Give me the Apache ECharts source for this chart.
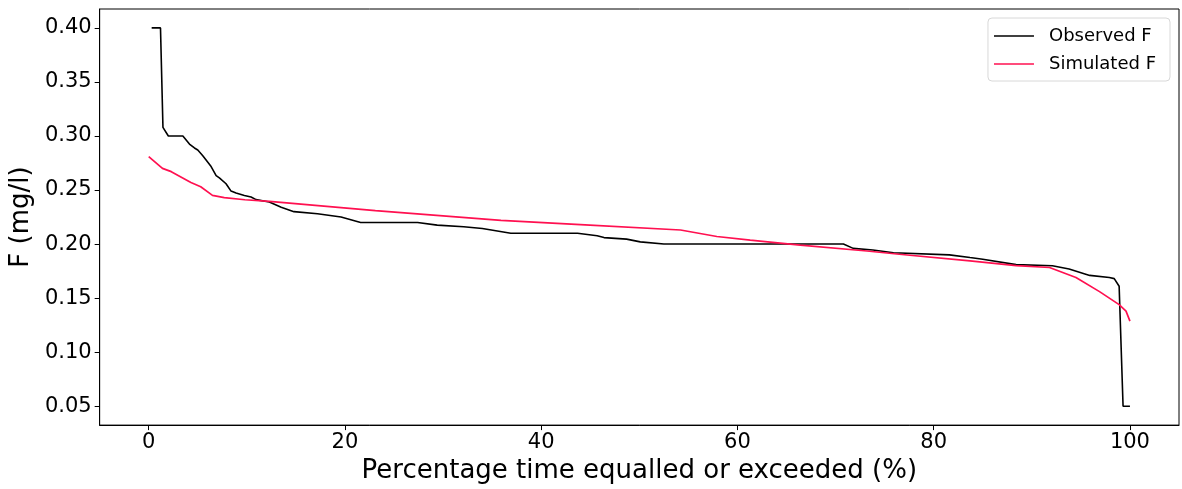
<!DOCTYPE html>
<html>
<head>
<meta charset="utf-8">
<script src="https://cdn.jsdelivr.net/npm/echarts@6/dist/echarts.min.js"></script>
<style>
html,body{margin:0;padding:0;background:#fff;}
#chart{width:1182px;height:489px;}
</style>
</head>
<body>
<div id="chart"></div>
<script>
// Observed F flow-duration style curve (x: % time equalled or exceeded, y: mg/l)
const obsX = [0.3, 1.2, 1.45, 2.0, 3.48, 4.15, 4.66, 5.0, 5.51, 6.36, 6.87, 7.2, 7.88, 8.39, 8.9, 9.75, 10.43, 10.94, 12.29, 13.5, 14.8, 17.2, 19.6, 21.6, 27.4, 29.4, 32.1, 34.0, 36.9, 43.7, 45.7, 46.4, 48.7, 50.1, 52.5, 70.8, 71.8, 73.8, 75.9, 81.6, 83.7, 85.0, 88.4, 92.1, 93.8, 95.9, 97.9, 98.4, 98.9, 99.3, 100.0];
const obsY = [0.400, 0.400, 0.308, 0.300, 0.300, 0.2925, 0.2889, 0.287, 0.2818, 0.2717, 0.2634, 0.2613, 0.2558, 0.249, 0.2472, 0.245, 0.2436, 0.2411, 0.239, 0.234, 0.230, 0.228, 0.225, 0.220, 0.220, 0.2175, 0.216, 0.2144, 0.210, 0.210, 0.2077, 0.206, 0.2046, 0.202, 0.200, 0.200, 0.196, 0.1945, 0.192, 0.190, 0.1875, 0.186, 0.181, 0.180, 0.177, 0.171, 0.169, 0.168, 0.161, 0.050, 0.050];
const simX = [0, 1.4, 2.3, 4.3, 5.3, 6.5, 7.7, 9.8, 12.3, 23.1, 35.9, 44.0, 54.2, 57.9, 61.3, 66.4, 73.2, 76.5, 83.7, 88.4, 91.8, 94.5, 96.9, 98.9, 99.6, 100.0];
const simY = [0.281, 0.270, 0.267, 0.257, 0.253, 0.245, 0.243, 0.241, 0.2395, 0.231, 0.222, 0.218, 0.213, 0.207, 0.2037, 0.199, 0.1936, 0.1906, 0.1844, 0.180, 0.1783, 0.169, 0.156, 0.144, 0.138, 0.1287];
const xTicks = [0, 20, 40, 60, 80, 100];
const yTicks = [0.05, 0.10, 0.15, 0.20, 0.25, 0.30, 0.35, 0.40];
const seriesNames = ['Observed F', 'Simulated F'];

const obsData = obsX.map((x, i) => [x, obsY[i]]);
const simData = simX.map((x, i) => [x, simY[i]]);

const FONT = 'DejaVu Sans';
const RED = '#ff1050';
const chart = echarts.init(document.getElementById('chart'), null, {renderer: 'canvas'});
chart.setOption({
  animation: false,
  backgroundColor: '#fff',
  textStyle: {fontFamily: FONT},
  grid: {left: 98, right: 3, top: 9, bottom: 61, show: true, borderColor: '#000', borderWidth: 1, backgroundColor: 'transparent'},
  legend: {
    orient: 'vertical', right: 12, top: 18,
    data: seriesNames,
    icon: 'rect',
    itemWidth: 40, itemHeight: 1.5, itemGap: 10,
    padding: [9, 14, 8, 6],
    borderColor: '#d8d8d8', borderWidth: 1, borderRadius: 4,
    backgroundColor: 'rgba(255,255,255,0.8)',
    textStyle: {fontFamily: FONT, fontSize: 18, color: '#000', padding: [0, 0, 0, 10]}
  },
  xAxis: {
    type: 'value', min: -5, max: 105,
    name: 'Percentage time equalled or exceeded (%)',
    nameLocation: 'middle', nameGap: 28,
    nameTextStyle: {fontFamily: FONT, fontSize: 26, color: '#000'},
    axisLine: {show: true, onZero: false, lineStyle: {color: '#000', width: 1}},
    axisTick: {show: true, length: 5, lineStyle: {color: '#000'}, customValues: xTicks},
    axisLabel: {show: true, fontFamily: FONT, fontSize: 21, color: '#000', margin: 7, customValues: xTicks, formatter: v => String(v)},
    splitLine: {show: false}
  },
  yAxis: {
    type: 'value', min: 0.0325, max: 0.4175,
    name: 'F (mg/l)',
    nameLocation: 'middle', nameGap: 56,
    nameTextStyle: {fontFamily: FONT, fontSize: 26, color: '#000'},
    axisLine: {show: true, onZero: false, lineStyle: {color: '#000', width: 1}},
    axisTick: {show: true, length: 5, lineStyle: {color: '#000'}, customValues: yTicks},
    axisLabel: {show: true, fontFamily: FONT, fontSize: 21, color: '#000', margin: 8, customValues: yTicks, formatter: v => v.toFixed(2)},
    splitLine: {show: false}
  },
  series: [
    {name: seriesNames[0], type: 'line', data: obsData, symbol: 'none', lineStyle: {color: '#000', width: 1.6}, itemStyle: {color: '#000'}},
    {name: seriesNames[1], type: 'line', data: simData, symbol: 'none', lineStyle: {color: RED, width: 1.7}, itemStyle: {color: RED}}
  ]
});
</script>
</body>
</html>
